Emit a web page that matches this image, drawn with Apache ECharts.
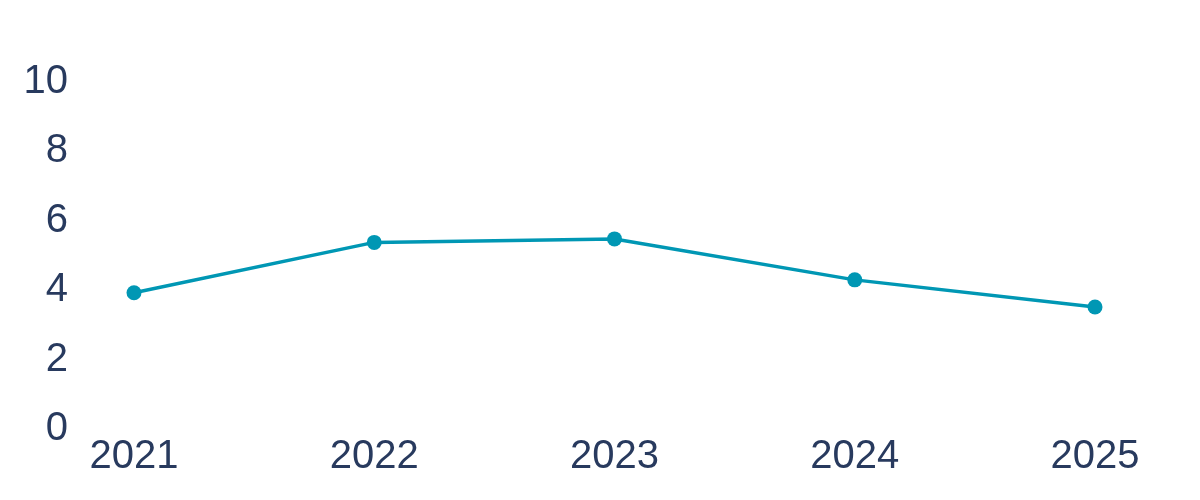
<!DOCTYPE html>
<html>
<head>
<meta charset="utf-8">
<script src="https://cdn.jsdelivr.net/npm/echarts@6/dist/echarts.min.js"></script>
<style>
  html, body { margin: 0; padding: 0; background: #fff; }
  #chart { width: 1200px; height: 500px; }
</style>
</head>
<body>
<div id="chart"></div>
<script>
const years = ['2021', '2022', '2023', '2024', '2025'];
const values = [3.87, 5.32, 5.42, 4.24, 3.46];
const yTicks = [0, 2, 4, 6, 8, 10];

const textColor = '#283a5e';
const lineColor = '#0097b4';

const chart = echarts.init(document.getElementById('chart'));
chart.setOption({
  animation: false,
  grid: {
    left: 134,
    right: 105,
    top: 80,
    bottom: 73
  },
  xAxis: {
    type: 'category',
    data: years,
    boundaryGap: false,
    axisLine: { show: false },
    axisTick: { show: false },
    axisLabel: {
      color: textColor,
      fontSize: 40,
      fontFamily: 'Liberation Sans',
      margin: 10
    }
  },
  yAxis: {
    type: 'value',
    min: yTicks[0],
    max: yTicks[yTicks.length - 1],
    interval: 2,
    splitLine: { show: false },
    axisLine: { show: false },
    axisTick: { show: false },
    axisLabel: {
      color: textColor,
      fontSize: 40,
      fontFamily: 'Liberation Sans',
      margin: 66,
      lineHeight: 46,
      verticalAlign: 'top',
      padding: [-21, 0, 0, 0]
    }
  },
  series: [{
    type: 'line',
    data: values,
    symbol: 'circle',
    symbolSize: 15,
    lineStyle: { color: lineColor, width: 3.5 },
    itemStyle: { color: lineColor }
  }]
});
</script>
</body>
</html>
